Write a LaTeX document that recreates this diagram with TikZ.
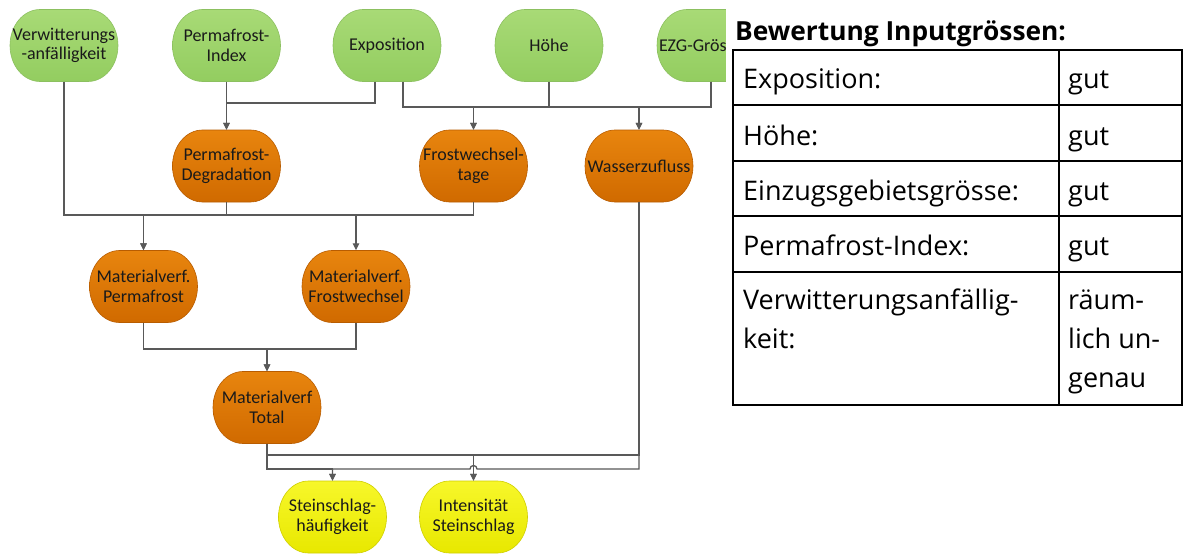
\documentclass[tikz,border=0pt]{standalone}
\usepackage{fontspec}
\setmainfont{Carlito}
\newfontfamily\tabfont{Open Sans}
\usetikzlibrary{arrows.meta,calc,backgrounds}
\definecolor{gA}{HTML}{A8DA76}
\definecolor{gB}{HTML}{93CD60}
\definecolor{gD}{HTML}{8CC060}
\definecolor{oA}{HTML}{E8850E}
\definecolor{oB}{HTML}{D06A00}
\definecolor{oD}{HTML}{B85C00}
\definecolor{yA}{HTML}{F7F72A}
\definecolor{yB}{HTML}{E8E800}
\definecolor{yD}{HTML}{CFCF00}
\definecolor{lc}{HTML}{595959}
\definecolor{txt}{HTML}{1A1A1A}
\newcommand\pillbg[2]{%
  \path[#2] ($(#1.center)+(-54,0)$)
   .. controls ($(#1.center)+(-54,-19.9)$) and ($(#1.center)+(-40.6,-36)$) .. ($(#1.center)+(-24,-36)$)
   -- ($(#1.center)+(24,-36)$)
   .. controls ($(#1.center)+(40.6,-36)$) and ($(#1.center)+(54,-19.9)$) .. ($(#1.center)+(54,0)$)
   .. controls ($(#1.center)+(54,19.9)$) and ($(#1.center)+(40.6,36)$) .. ($(#1.center)+(24,36)$)
   -- ($(#1.center)+(-24,36)$)
   .. controls ($(#1.center)+(-40.6,36)$) and ($(#1.center)+(-54,19.9)$) .. ($(#1.center)+(-54,0)$)
   -- cycle;}
\begin{document}
\begin{tikzpicture}[x=1pt,y=-1pt,
  box/.style={minimum width=108pt, minimum height=72pt,
    inner sep=0pt, align=center, font=\fontsize{18}{19.5}\selectfont, text=txt},
  gfill/.style={top color=gA, bottom color=gB, draw=gD, line width=0.6pt},
  ofill/.style={top color=oA, bottom color=oB, draw=oD, line width=0.6pt},
  yfill/.style={top color=yA, bottom color=yB, draw=yD, line width=0.6pt},
  conn/.style={draw=lc, line width=1.3pt},
  arr/.style={conn, -{Triangle[length=7pt,width=6.5pt]}},
  tcell/.style={anchor=base west, inner sep=0pt, font=\tabfont\fontsize{27}{39}\selectfont, text=black},
  grid/.style={draw=black, line width=2pt}]
\useasboundingbox (0,0) rectangle (1183,554);

% top row
\node[box] (verw) at (64,45.5) {Verwitterungs\\-anfälligkeit};
\node[box] (pidx) at (226.5,45.5) {Permafrost-\\Index};
\node[box] (expo) at (387,45.5) {Exposition};
\node[box] (hoehe) at (549,45.5) {Höhe};
\node[box, text width=104pt, align=left, inner xsep=2pt] (ezg) at (711,45.5) {EZG-Grösse};
% second row
\node[box] (pdeg) at (226.5,166) {Permafrost-\\Degradation};
\node[box] (fwt) at (473.5,166) {Frostwechsel-\\tage};
\node[box] (wz) at (639,166) {Wasserzufluss};
% third row
\node[box] (mvp) at (143.5,286.5) {Materialverf.\\Permafrost};
\node[box] (mvf) at (356,286.5) {Materialverf.\\Frostwechsel};
\node[box] (tot) at (267,407.5) {Materialverf\\Total};
% outputs
\node[box] (ssh) at (332.5,517) {Steinschlag-\\häufigkeit};
\node[box] (int) at (473.5,517) {Intensität\\Steinschlag};

\begin{pgfonlayer}{background}
\fill[white] (0,0) rectangle (1183,554);
\foreach \n in {verw,pidx,expo,hoehe,ezg}{\pillbg{\n}{gfill}}
\foreach \n in {pdeg,fwt,wz,mvp,mvf,tot}{\pillbg{\n}{ofill}}
\foreach \n in {ssh,int}{\pillbg{\n}{yfill}}
\end{pgfonlayer}

\coordinate (h0) at (0,103);
\coordinate (h1) at (0,107);
\coordinate (h2) at (0,215);
\coordinate (h3) at (0,349);
\coordinate (h4) at (0,455);
\coordinate (h5) at (0,469);
\coordinate (hop) at (473.5,469);

% connectors
\draw[arr] (pidx.south) -- (pdeg.north);
\draw[arr] ([xshift=-12pt]expo.south) |- (pdeg.north |- h0) -- (pdeg.north);
\draw[arr] ([xshift=16pt]expo.south) |- (fwt.north |- h1) -- (fwt.north);
\draw[arr] (hoehe.south) |- (wz.north |- h1) -- (wz.north);
\draw[arr] (ezg.south) |- (fwt.north |- h1) -- (fwt.north);
\draw[arr] (ezg.south) |- (wz.north |- h1) -- (wz.north);

\draw[arr] (verw.south) |- (mvf.north |- h2) -- (mvf.north);
\draw[arr] (pdeg.south) |- (mvp.north |- h2) -- (mvp.north);
\draw[arr] (fwt.south) |- (mvp.north |- h2) -- (mvp.north);

\draw[arr] (mvp.south) |- (tot.north |- h3) -- (tot.north);
\draw[arr] (mvf.south) |- (tot.north |- h3) -- (tot.north);

\draw[arr] (tot.south) |- (ssh.north |- h5) -- (ssh.north);
\draw[arr] (tot.south) |- (int.north |- h4) -- (int.north);
\draw[arr] (wz.south) |- (int.north |- h4) -- (int.north);
\draw[arr] (wz.south) -- (wz.south |- h5) -- ([xshift=3.5pt]hop)
  arc[start angle=0, end angle=180, radius=3.5pt] -- (ssh.north |- h5) -- (ssh.north);

% cover right part
\fill[white] (726,0) rectangle (1183,554);

% table
\node[anchor=base west, inner sep=0pt, font=\tabfont\bfseries\fontsize{26.3}{28}\selectfont] (title) at (735,40) {Bewertung Inputgrössen:};
\draw[grid] (733,50) rectangle (1182,405);
\draw[grid] (1059,50) -- (1059,405);
\draw[grid] (733,105) -- (1182,105);
\draw[grid] (733,161) -- (1182,161);
\draw[grid] (733,216) -- (1182,216);
\draw[grid] (733,272) -- (1182,272);

\node[tcell] (a1) at (743,88) {Exposition:};
\node[tcell] (b1) at (1068,88) {gut};
\node[tcell] (a2) at (743,145) {Höhe:};
\node[tcell] (b2) at (1068,145) {gut};
\node[tcell] (a3) at (743,200) {Einzugsgebietsgrösse:};
\node[tcell] (b3) at (1068,200) {gut};
\node[tcell] (a4) at (743,255) {Permafrost-Index:};
\node[tcell] (b4) at (1068,255) {gut};
\node[tcell] (a5) at (743,309) {Verwitterungsanfällig-};
\node[tcell] (a6) at (743,348) {keit:};
\node[tcell] (b5) at (1068,309) {räum-};
\node[tcell] (b6) at (1068,348) {lich un-};
\node[tcell] (b7) at (1068,387) {genau};
\end{tikzpicture}
\end{document}
